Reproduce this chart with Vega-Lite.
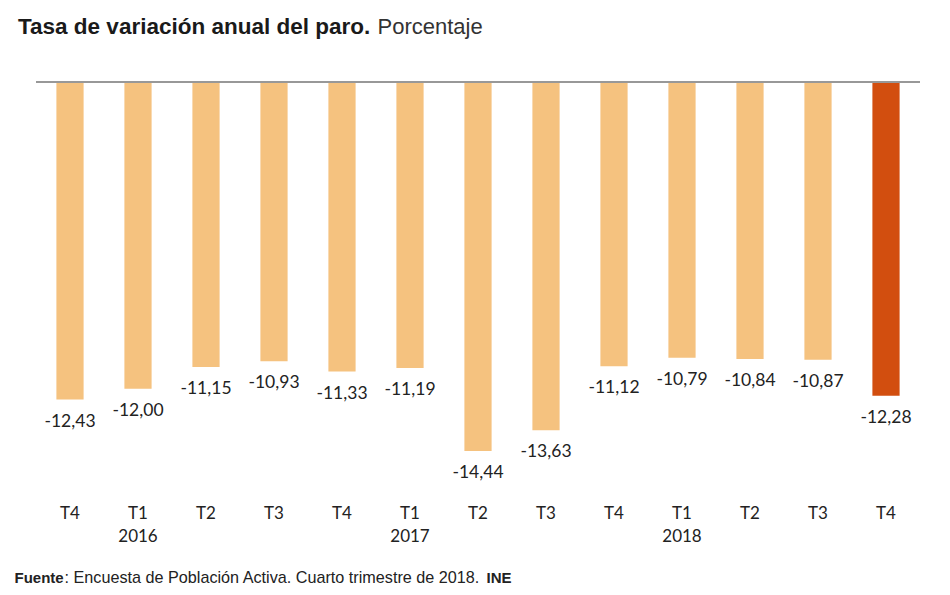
{
  "$schema": "https://vega.github.io/schema/vega-lite/v6.json",
  "width": 884,
  "height": 393,
  "autosize": {"type": "none"},
  "padding": {"left": 36, "top": 82, "right": 30, "bottom": 120},
  "background": "white",
  "title": {
    "text": "Tasa de variación anual del paro.",
    "anchor": "start",
    "dx": 4,
    "dy": 23,
    "offset": 0,
    "font": "Liberation Sans",
    "fontSize": 22.5,
    "fontWeight": "bold",
    "color": "#1a1a1a"
  },
  "config": {
    "view": {"stroke": null},
    "locale": {"number": {"decimal": ",", "thousands": ".", "grouping": [3], "currency": ["", " €"], "minus": "-"}}
  },
  "data": {
    "values": [
      {"periodo": "2015 T4", "valor": -12.43, "tipo": "normal"},
      {"periodo": "2016 T1", "valor": -12.00, "tipo": "normal"},
      {"periodo": "2016 T2", "valor": -11.15, "tipo": "normal"},
      {"periodo": "2016 T3", "valor": -10.93, "tipo": "normal"},
      {"periodo": "2016 T4", "valor": -11.33, "tipo": "normal"},
      {"periodo": "2017 T1", "valor": -11.19, "tipo": "normal"},
      {"periodo": "2017 T2", "valor": -14.44, "tipo": "normal"},
      {"periodo": "2017 T3", "valor": -13.63, "tipo": "normal"},
      {"periodo": "2017 T4", "valor": -11.12, "tipo": "normal"},
      {"periodo": "2018 T1", "valor": -10.79, "tipo": "normal"},
      {"periodo": "2018 T2", "valor": -10.84, "tipo": "normal"},
      {"periodo": "2018 T3", "valor": -10.87, "tipo": "normal"},
      {"periodo": "2018 T4", "valor": -12.28, "tipo": "ultimo"}
    ]
  },
  "layer": [
    {
      "mark": {"type": "bar"},
      "encoding": {
        "x": {
          "field": "periodo", "type": "nominal", "sort": null,
          "scale": {"paddingInner": 0.6, "paddingOuter": 0.3},
          "axis": {
            "orient": "bottom",
            "title": ": Encuesta de Población Activa. Cuarto trimestre de 2018.",
            "titleX": 28, "titleY": 107, "titleAlign": "left", "titleBaseline": "alphabetic",
            "titleFont": "Liberation Sans", "titleFontSize": 16.2, "titleFontWeight": "normal", "titleColor": "#222",
            "labelExpr": "[split(datum.value,' ')[1], split(datum.value,' ')[1] == 'T1' ? split(datum.value,' ')[0] : '']",
            "labelAngle": 0, "labelFont": "Lato", "labelFontSize": 17, "labelColor": "#222",
            "labelPadding": 30, "labelLineHeight": 23,
            "ticks": false, "domain": false, "grid": false
          }
        },
        "y": {
          "field": "valor", "type": "quantitative",
          "scale": {"domain": [-15.38, 0], "nice": false},
          "axis": {
            "title": "Fuente", "titleAngle": 0, "titleX": -22, "titleY": 500,
            "titleAlign": "left", "titleBaseline": "alphabetic",
            "titleFont": "Liberation Sans", "titleFontSize": 15, "titleFontWeight": "bold", "titleColor": "#222",
            "labels": false, "ticks": false, "domain": false, "grid": false
          }
        },
        "color": {
          "field": "tipo", "type": "nominal",
          "scale": {"domain": ["normal", "ultimo"], "range": ["#F5C27F", "#D24E0F"]},
          "legend": null
        }
      }
    },
    {
      "mark": {"type": "text", "baseline": "top", "dy": 13, "font": "Lato", "fontSize": 17.5, "color": "#222"},
      "encoding": {
        "x": {
          "field": "periodo", "type": "nominal", "sort": null,
          "axis": {
            "orient": "top",
            "title": "Porcentaje",
            "titleX": 341, "titleY": -49, "titleAlign": "left", "titleBaseline": "alphabetic",
            "titleFont": "Liberation Sans", "titleFontSize": 22, "titleFontWeight": "normal", "titleColor": "#333",
            "labels": false, "ticks": false, "domain": false, "grid": false
          }
        },
        "y": {
          "field": "valor", "type": "quantitative",
          "axis": {
            "orient": "right",
            "title": "INE", "titleAngle": 0, "titleX": -434, "titleY": 500,
            "titleAlign": "left", "titleBaseline": "alphabetic",
            "titleFont": "Liberation Sans", "titleFontSize": 15, "titleFontWeight": "bold", "titleColor": "#222",
            "labels": false, "ticks": false, "domain": false, "grid": false
          }
        },
        "text": {"field": "valor", "type": "quantitative", "format": ".2f"}
      }
    },
    {
      "mark": {"type": "rule", "color": "#999999", "strokeWidth": 1.5},
      "encoding": {
        "y": {"datum": 0, "type": "quantitative", "axis": null}
      }
    }
  ],
  "resolve": {"axis": {"x": "independent", "y": "independent"}}
}
